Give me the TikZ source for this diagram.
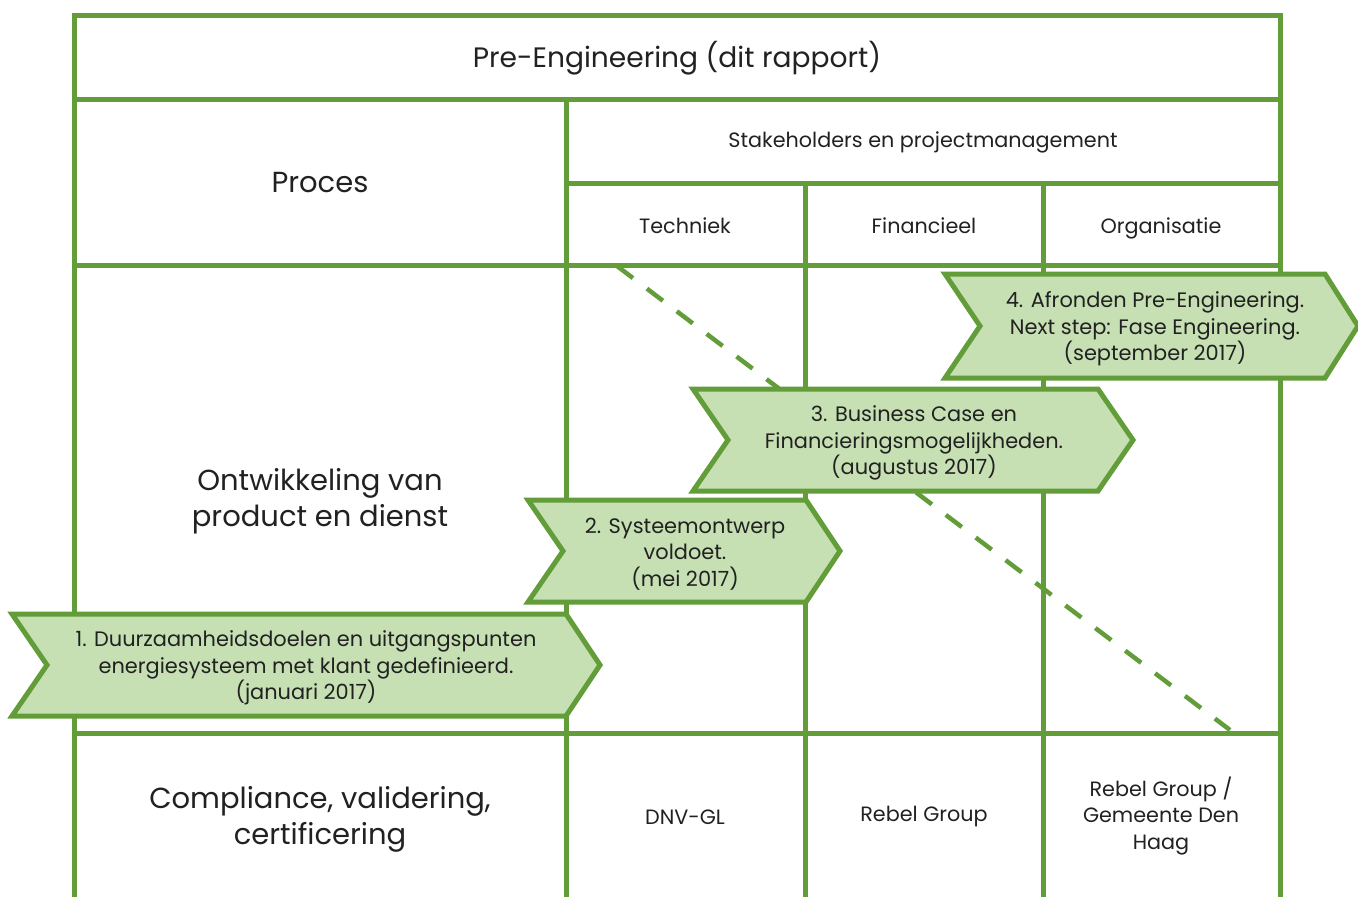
\documentclass[tikz,border=0pt]{standalone}
\usepackage{fontspec}
\setmainfont{Poppins}

\definecolor{tablegreen}{RGB}{98,157,57}
\definecolor{stepfill}{RGB}{198,224,180}
\definecolor{inkgray}{RGB}{33,33,33}

\begin{document}
\begin{tikzpicture}[x=0.02cm, y=-0.02cm,
    grid/.style={draw=tablegreen, line width=0.1cm},
    stepshape/.style={draw=tablegreen, fill=stepfill, line width=0.1cm, line join=miter},
    steptext/.style={align=center, text=inkgray, font=\fontsize{11.9}{15.1}\selectfont},
    cell/.style={align=center, text=inkgray, font=\fontsize{11.8}{15}\selectfont},
    bigcell/.style={align=center, text=inkgray, font=\fontsize{16.5}{20.4}\selectfont}]

    \useasboundingbox (0, 0) rectangle (1358, 897);

    % Table
    \draw[grid] (74, 897) -- (74, 15) -- (1280, 15) -- (1280, 897);
    \draw[grid] (74, 99) -- (1280, 99);
    \draw[grid] (566, 183) -- (1280, 183);
    \draw[grid] (74, 265) -- (1280, 265);
    \draw[grid] (74, 733) -- (1280, 733);
    \draw[grid] (566, 99) -- (566, 897);
    \draw[grid] (805, 183) -- (805, 897);
    \draw[grid] (1043, 183) -- (1043, 897);

    % Cells
    \node[bigcell, font=\fontsize{16}{20}\selectfont] (title) at (677, 58) {Pre-Engineering (dit rapport)};
    \node[bigcell] (proces) at (320, 183) {Proces};
    \node[cell] (stakeholders) at (923, 142) {Stakeholders en projectmanagement};
    \node[cell] (techniek) at (685, 226) {Techniek};
    \node[cell] (financieel) at (924, 226) {Financieel};
    \node[cell] (organisatie) at (1161, 228) {Organisatie};
    \node[bigcell] (ontwikkeling) at (320, 501) {Ontwikkeling van\\product en dienst};
    \node[bigcell] (compliance) at (320, 819) {Compliance, validering,\\certificering};
    \node[cell] (dnv) at (685, 817) {DNV-GL};
    \node[cell] (rebel) at (924, 817) {Rebel Group};
    \node[cell] (rebelhaag) at (1161, 816) {Rebel Group /\\Gemeente Den\\Haag};

    % Diagonal
    \draw[draw=tablegreen, line width=0.09cm, dash pattern=on 0.4cm off 0.35cm] (617, 266) -- (1230, 730);

    % Steps
    \draw[stepshape] (12, 614) -- (566, 614) -- (600, 665) -- (566, 716) -- (12, 716) -- (47, 665) -- cycle;
    \node[steptext] (step1) at (306, 668) {1. Duurzaamheidsdoelen en uitgangspunten\\energiesysteem met klant gedefinieerd.\\(januari 2017)};

    \draw[stepshape] (528, 500) -- (806, 500) -- (840, 551) -- (806, 602) -- (528, 602) -- (563, 551) -- cycle;
    \node[steptext] (step2) at (685, 554) {2. Systeemontwerp\\voldoet.\\(mei 2017)};

    \draw[stepshape] (693, 389) -- (1098, 389) -- (1133, 440) -- (1098, 491) -- (693, 491) -- (728, 440) -- cycle;
    \node[steptext] (step3) at (914, 443) {3. Business Case en\\Financieringsmogelijkheden.\\(augustus 2017)};

    \draw[stepshape] (945, 274) -- (1325, 274) -- (1358, 326) -- (1325, 378) -- (945, 378) -- (980, 326) -- cycle;
    \node[steptext] (step4) at (1155, 329) {4. Afronden Pre-Engineering.\\Next step: Fase Engineering.\\(september 2017)};

\end{tikzpicture}
\end{document}
